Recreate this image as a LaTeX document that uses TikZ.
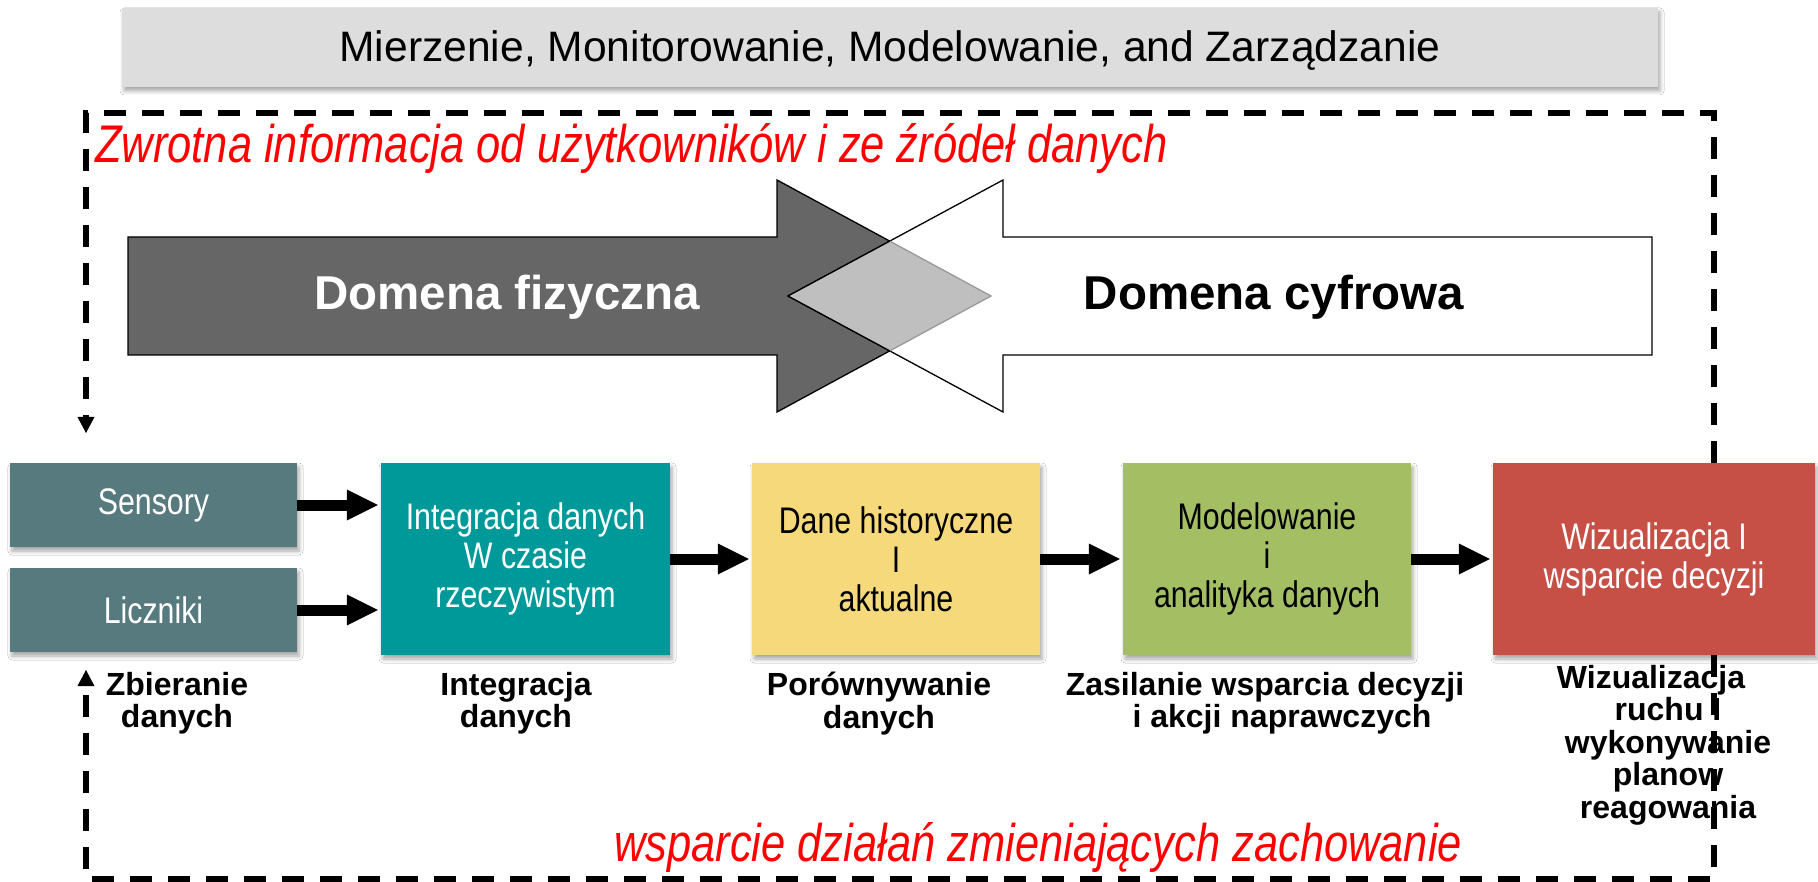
\documentclass[tikz,border=0pt]{standalone}
\usepackage{fontspec}
\setmainfont{Liberation Sans}
\newfontfamily\narrowf[FakeStretch=0.82]{Liberation Sans}
\usetikzlibrary{arrows.meta,shadows.blur,calc}
\definecolor{slate}{HTML}{577A7E}
\definecolor{tealc}{HTML}{009999}
\definecolor{yellowc}{HTML}{F6D97A}
\definecolor{greenc}{HTML}{A4BE63}
\definecolor{redc}{HTML}{C65046}
\definecolor{titlegray}{HTML}{DDDDDD}
\definecolor{darkarrow}{HTML}{666666}
\definecolor{diamondc}{HTML}{BFBFBF}
\definecolor{redtext}{HTML}{FF0000}
\begin{document}
\begin{tikzpicture}[x=1pt,y=-1pt,
  shad/.style={blur shadow={shadow xshift=2pt,shadow yshift=-4pt,shadow blur radius=4pt,shadow opacity=35}},
  box/.style={rectangle,inner sep=0pt,align=center,minimum width=288pt,minimum height=192pt,
    font=\narrowf\fontsize{37}{39}\selectfont,shad},
  smallbox/.style={box,minimum width=287pt,minimum height=84pt,fill=slate,text=white},
  lbl/.style={font=\bfseries\fontsize{32}{32.5}\selectfont,align=center,inner sep=0pt,anchor=north},
  redlbl/.style={font=\narrowf\itshape\fontsize{53}{60}\selectfont,text=redtext,inner sep=0pt},
  domtext/.style={font=\bfseries\fontsize{47.5}{50}\selectfont,inner sep=0pt,anchor=base},
  blk/.style={line width=11pt,-{Triangle[length=31pt,width=31pt,line width=0pt]},shorten >=3pt},
  fb/.style={line width=5.2pt,dash pattern=on 22pt off 16pt,-{Triangle[length=16pt,width=17pt,line width=0pt]}}
]
\useasboundingbox (0,0) rectangle (1818,882);
\fill[white] (0,0) rectangle (1818,882);

% title
\node[rectangle,fill=titlegray,minimum width=1536pt,minimum height=79pt,inner sep=0pt,shad,
  font=\fontsize{42.6}{48}\selectfont,text height=29pt,text depth=0pt] (title) at (890,47.5)
  {Mierzenie, Monitorowanie, Modelowanie, and Zarządzanie};

% big arrows
\coordinate (dT) at (777,180);
\coordinate (dP) at (991,296);
\coordinate (dB) at (777,412);
\coordinate (wT) at (1003,180);
\coordinate (wP) at (788,296);
\coordinate (wB) at (1003,412);
\coordinate (xT) at (intersection of dT--dP and wT--wP);
\coordinate (xB) at (intersection of dB--dP and wB--wP);
\filldraw[fill=darkarrow,draw=black,line width=1.3pt,line join=miter]
  (128,237) -- (777,237) -- (dT) -- (dP) -- (dB) -- (777,355) -- (128,355) -- cycle;
\filldraw[fill=white,draw=black,line width=1.3pt,line join=miter]
  (1652,237) -- (1003,237) -- (wT) -- (wP) -- (wB) -- (1003,355) -- (1652,355) -- cycle;
\fill[diamondc] (wP) -- (xT) -- (dP) -- (xB) -- cycle;
\draw[gray!80,line width=1.3pt] (xT) -- (dP) -- (xB);
\draw[black,line width=1.3pt] (xT) -- (wP) -- (xB);
\node[domtext,text=white] (dfiz) at (507,310) {Domena fizyczna};
\node[domtext,text=black] (dcyf) at (1274,310) {Domena cyfrowa};

% red texts
\node[redlbl,anchor=base west] (ztop) at (95,163) {Zwrotna informacja od użytkowników i ze źródeł danych};
\node[redlbl,anchor=base west] (zbot) at (614,861) {wsparcie działań zmieniających zachowanie};

% boxes
\node[smallbox] (sens) at (153.5,505) {Sensory};
\node[smallbox] (licz) at (153.5,610) {Liczniki};
\node[box,fill=tealc,text=white,minimum width=289pt] (integ) at (525.5,559) {Integracja danych\\W czasie\\rzeczywistym};
\node[box,fill=yellowc,text=black] (hist) at (896,559) {Dane historyczne\\I\\aktualne};
\node[box,fill=greenc,text=black] (model) at (1267,559) {Modelowanie\\i\\analityka danych};
\node[box,fill=redc,text=white,minimum width=322pt] (viz) at (1654,559) {Wizualizacja I\\wsparcie decyzji};

% block arrows
\draw[blk] (sens.east) -- (sens.east -| integ.west);
\draw[blk] (licz.east) -- (licz.east -| integ.west);
\draw[blk] (integ.east) -- (hist.west);
\draw[blk] (hist.east) -- (model.west);
\draw[blk] (model.east) -- (viz.west);

% feedback dashed loops
\coordinate (rtop) at (1714,113);
\coordinate (ltop) at (86,113);
\coordinate (fbin) at (86,433);
\coordinate (rbot) at (1714,879);
\coordinate (lbot) at (86,879);
\coordinate (fbout) at (86,670);
\draw[fb] (viz.north -| rtop) -- (rtop) -- (ltop) -- (fbin);
\draw[fb] (viz.south -| rbot) -- (rbot) -- (lbot) -- (fbout);

% labels
\node[lbl] (l1) at (177,672) {Zbieranie\\danych};
\node[lbl] (l2) at (516,672) {Integracja\\danych};
\node[lbl] (l3) at (879,672) {Porównywanie\\danych};
\node[lbl] (l4) at (1274,672) {Zasilanie wsparcia decyzji\hspace*{18pt}\\\hspace*{16pt}i akcji naprawczych};
\node[lbl] (l5) at (1668,665) {Wizualizacja\hspace*{34pt}\\ruchu I\\wykonywanie\\planow\\reagowania};
\end{tikzpicture}
\end{document}
